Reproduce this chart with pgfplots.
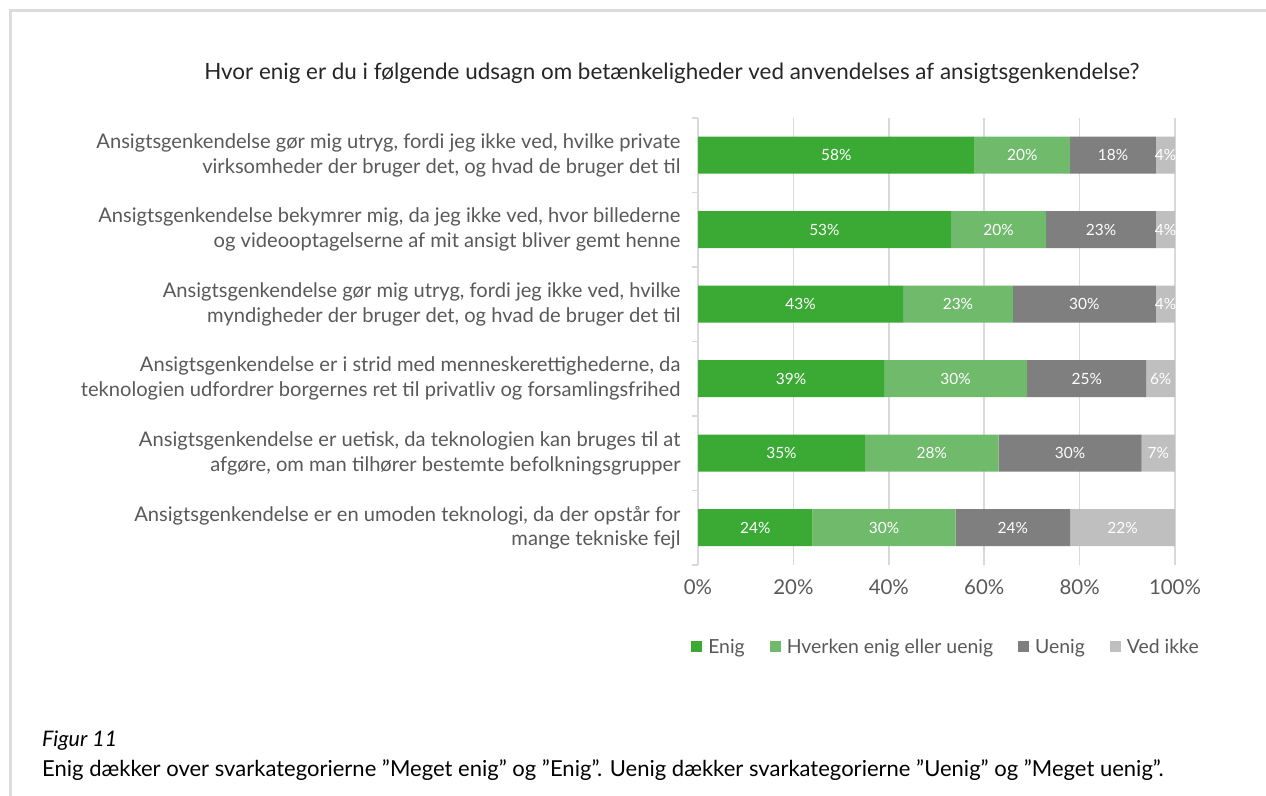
\documentclass[border=0pt]{standalone}
\usepackage{fontspec}
\setmainfont{Lato}
\usepackage{pgfplots}
\usepackage{pgfplotstable}
\pgfplotsset{compat=1.18}
\definecolor{cEnig}{HTML}{3AAA35}
\definecolor{cHverken}{HTML}{70BA6C}
\definecolor{cUenig}{HTML}{7F7F80}
\definecolor{cVed}{HTML}{BFBFC0}
\definecolor{cText}{HTML}{595959}
\definecolor{cGrid}{HTML}{D9D9D9}
\definecolor{cBorder}{HTML}{DCDCE0}
\pgfplotstableread{
idx enig hverken uenig ved
5 58 20 18 4
4 53 20 23 4
3 43 23 30 4
2 39 30 25 6
1 35 28 30 7
0 24 30 24 22
}\datatable
\begin{document}
\begin{tikzpicture}
\useasboundingbox (0bp,0bp) rectangle (1266bp,796bp);
\fill[white] (0bp,0bp) rectangle (1266bp,796bp);
\draw[line width=3bp, color=cBorder] (10bp,0bp) -- (10bp,785bp) -- (1266bp,785bp);
\begin{axis}[
  at={(698bp,231bp)}, anchor=south west,
  scale only axis, width=477bp, height=447bp,
  xmin=0, xmax=100, ymin=-0.5, ymax=5.5,
  xbar stacked, bar width=37bp,
  /pgf/number format/assume math mode=true,
  axis line style={draw=none},
  xmajorgrids, grid style={color=cGrid, line width=1.5bp},
  xtick={0,20,...,100},
  xticklabel={\pgfmathprintnumber{\tick}\%},
  xticklabel style={text=cText, font=\fontsize{20.5}{22}\selectfont, yshift=-11bp},
  ytick={0,...,5},
  minor ytick={-0.5,0.5,...,5.5},
  major tick length=0pt, minor tick length=6bp,
  tick align=outside, ytick pos=left, xtick pos=bottom,
  tick style={color=cGrid, line width=1.5bp},
  yticklabels={
    {Ansigtsgenkendelse er en umoden teknologi, da der opstår for\\mange tekniske fejl},
    {Ansigtsgenkendelse er uetisk, da teknologien kan bruges til at\\afgøre, om man tilhører bestemte befolkningsgrupper},
    {Ansigtsgenkendelse er i strid med menneskerettighederne, da\\teknologien udfordrer borgernes ret til privatliv og forsamlingsfrihed},
    {Ansigtsgenkendelse gør mig utryg, fordi jeg ikke ved, hvilke\\myndigheder der bruger det, og hvad de bruger det til},
    {Ansigtsgenkendelse bekymrer mig, da jeg ikke ved, hvor billederne\\og videooptagelserne af mit ansigt bliver gemt henne},
    {Ansigtsgenkendelse gør mig utryg, fordi jeg ikke ved, hvilke private\\virksomheder der bruger det, og hvad de bruger det til}
  },
  yticklabel style={align=right, font=\fontsize{20.2}{25}\selectfont, text=cText, xshift=-14bp},
  legend columns=4,
  legend style={draw=none, font=\fontsize{19.5}{21}\selectfont, text=cText,
    at={(0.52,-0.1834)}, anchor=center,
    /tikz/every even column/.append style={column sep=23bp}},
  legend image code/.code={\path (0bp,0bp) -- (15bp,0bp);\fill[#1,draw=none] (0bp,-5.5bp) rectangle (11bp,5.5bp);},
  every node near coord/.append style={anchor=center, text=white, font=\fontsize{15.5}{17}\selectfont},
]
\addplot[fill=cEnig, draw=none,
  visualization depends on={\thisrow{enig}\as\myv},
  nodes near coords={\pgfmathprintnumber{\myv}\%}]
  table[x=enig, y=idx]{\datatable};
\addlegendentry{Enig}
\addplot[fill=cHverken, draw=none,
  visualization depends on={\thisrow{hverken}\as\myv},
  nodes near coords={\pgfmathprintnumber{\myv}\%}]
  table[x=hverken, y=idx]{\datatable};
\addlegendentry{Hverken enig eller uenig}
\addplot[fill=cUenig, draw=none,
  visualization depends on={\thisrow{uenig}\as\myv},
  nodes near coords={\pgfmathprintnumber{\myv}\%}]
  table[x=uenig, y=idx]{\datatable};
\addlegendentry{Uenig}
\addplot[fill=cVed, draw=none,
  visualization depends on={\thisrow{ved}\as\myv},
  nodes near coords={\pgfmathprintnumber{\myv}\%}]
  table[x=ved, y=idx]{\datatable};
\addlegendentry{Ved ikke}
\end{axis}
\node[font=\fontsize{22.5}{24}\selectfont, text={black!85}] at (672bp,723bp) {Hvor enig er du i følgende udsagn om betænkeligheder ved anvendelses af ansigtsgenkendelse?};
\node[anchor=base west, inner sep=0pt, font=\fontsize{21.5}{23}\selectfont\itshape] at (42bp,49bp) {Figur 11};
\node[anchor=base west, inner sep=0pt, font=\fontsize{22.1}{23}\selectfont] at (42bp,20bp) {Enig dækker over svarkategorierne ”Meget enig” og ”Enig”. Uenig dækker svarkategorierne ”Uenig” og ”Meget uenig”.};
\end{tikzpicture}
\end{document}
